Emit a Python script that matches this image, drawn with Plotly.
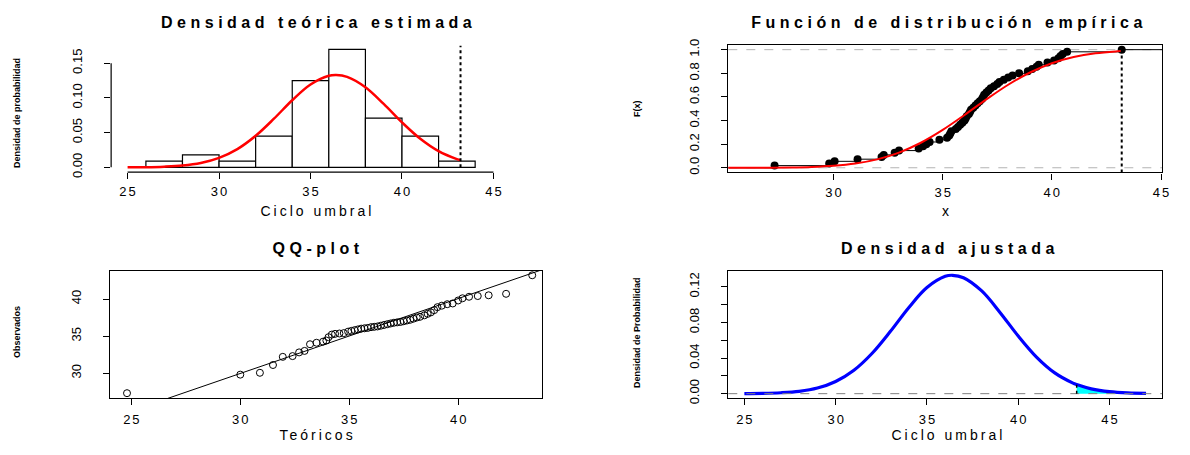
import plotly.graph_objects as go

W, H = 1190, 455

# ---------------- data ----------------
hist_breaks = [26, 28, 30, 32, 34, 36, 38, 40, 42, 44]
hist_density = [0.009, 0.018, 0.009, 0.045, 0.125, 0.170, 0.071, 0.045, 0.009]

threshold = 43.2

pdf_x = [25, 26, 27, 28, 29, 30, 31, 32, 33, 34, 35, 36, 36.4, 37, 38, 39, 40, 41, 42, 43, 43.2, 44, 45, 46, 47]
pdf_y = [0.0001, 0.0003, 0.0010, 0.0026, 0.0063, 0.0137, 0.0263, 0.0454, 0.0700, 0.0966, 0.1192, 0.1318, 0.1330,
         0.1303, 0.1154, 0.0913, 0.0647, 0.0411, 0.0233, 0.0118, 0.0102, 0.0054, 0.0022, 0.0008, 0.0003]

cdf_x = [25, 26, 27, 28, 29, 30, 31, 32, 33, 34, 35, 36, 37, 38, 39, 40, 41, 42, 43, 43.2]
cdf_y = [0.0001, 0.0003, 0.0009, 0.0026, 0.0068, 0.0165, 0.0359, 0.0712, 0.1286, 0.2119, 0.3204, 0.4470,
         0.5793, 0.7031, 0.8068, 0.8849, 0.9374, 0.9691, 0.9861, 0.9883]

obs = [27.3, 29.8, 30.05, 31.1, 32.2, 32.3, 32.8, 33.0, 33.9, 34.1, 34.25, 34.4, 34.85, 35.2, 35.3, 35.35,
       35.4, 35.6, 35.7, 35.8, 35.9, 36.0, 36.05, 36.1, 36.2, 36.25, 36.3, 36.4, 36.5, 36.6, 36.7, 36.8,
       36.85, 36.9, 37.0, 37.1, 37.2, 37.35, 37.5, 37.6, 37.8, 38.0, 38.2, 38.5, 38.9, 39.1, 39.3, 39.4,
       39.8, 40.1, 40.3, 40.4, 40.5, 40.7, 43.2]
theo = [24.8, 30.0, 30.9, 31.5, 31.95, 32.4, 32.7, 32.95, 33.2, 33.5, 33.8, 33.95, 34.05, 34.2, 34.35, 34.55,
        34.75, 34.95, 35.1, 35.25, 35.4, 35.55, 35.7, 35.85, 36.0, 36.15, 36.3, 36.45, 36.6, 36.75, 36.9, 37.05,
        37.2, 37.35, 37.5, 37.65, 37.8, 37.95, 38.1, 38.25, 38.45, 38.6, 38.75, 38.9, 39.05, 39.25, 39.5, 39.75,
        40.0, 40.2, 40.5, 40.9, 41.4, 42.2, 43.4]
qq_line_x = [24.0, 44.2]
qq_line_y = [23.9, 44.3]

fill_x = [43.2, 44, 45, 46, 47]
fill_y = [0.0102, 0.0054, 0.0022, 0.0008, 0.0003]

titles = ["Densidad teórica estimada", "Función de distribución empírica", "QQ-plot", "Densidad ajustada"]

# ---------------- helpers ----------------
FONT = "Liberation Sans"


def xd(a, b):
    return [a / W, b / W]


def yd(top, bottom):
    return [1 - bottom / H, 1 - top / H]


def px(x):
    return x / W


def py(y):
    return 1 - y / H


fig = go.Figure()

# TL histogram
mids = [(hist_breaks[i] + hist_breaks[i + 1]) / 2 for i in range(len(hist_density))]
widths = [hist_breaks[i + 1] - hist_breaks[i] for i in range(len(hist_density))]
fig.add_trace(go.Bar(x=mids, y=hist_density, width=widths, marker=dict(color="white", line=dict(color="black", width=1.2)),
                     xaxis="x", yaxis="y"))
tl_x = [v for v in pdf_x if v <= threshold]
tl_y = pdf_y[:len(tl_x)]
fig.add_trace(go.Scatter(x=tl_x, y=tl_y, mode="lines", line=dict(color="red", width=2.5, shape="spline"),
                         xaxis="x", yaxis="y"))

# TR ECDF
n = len(obs)
TR_RANGE = [25.18, 45.05]
ex = [TR_RANGE[0]] + obs + [TR_RANGE[1]]
ey = [0] + [(i + 1) / n for i in range(n)] + [1]
fig.add_trace(go.Scatter(x=ex, y=ey, mode="lines", line=dict(color="black", width=1, shape="hv"),
                         xaxis="x2", yaxis="y2"))
fig.add_trace(go.Scatter(x=obs, y=[(i + 1) / n for i in range(n)], mode="markers",
                         marker=dict(color="black", size=8, symbol="circle"), xaxis="x2", yaxis="y2"))
fig.add_trace(go.Scatter(x=cdf_x, y=cdf_y, mode="lines", line=dict(color="red", width=2, shape="spline"),
                         xaxis="x2", yaxis="y2"))

# BL QQ-plot
fig.add_trace(go.Scatter(x=qq_line_x, y=qq_line_y, mode="lines", line=dict(color="black", width=1),
                         xaxis="x3", yaxis="y3"))
fig.add_trace(go.Scatter(x=theo, y=obs, mode="markers",
                         marker=dict(symbol="circle-open", size=7, color="black", line=dict(width=1)),
                         xaxis="x3", yaxis="y3"))

# BR fitted density
fig.add_trace(go.Scatter(x=fill_x, y=fill_y, mode="lines", fill="tozeroy", fillcolor="#00ffff",
                         line=dict(color="rgba(0,0,0,0)", width=0, shape="spline"), xaxis="x4", yaxis="y4"))
fig.add_trace(go.Scatter(x=pdf_x, y=pdf_y, mode="lines", line=dict(color="blue", width=3.2, shape="spline"),
                         xaxis="x4", yaxis="y4"))

tickfont = dict(family=FONT, size=13, color="black")
common = dict(showgrid=False, zeroline=False, ticks="outside", ticklen=6, tickcolor="black",
              tickfont=tickfont, color="black")

L1, R1 = 111.7, 512.5
L2, R2 = 732, 1168
BL_L, BL_R = 111, 545
T1, B1 = 35.9, 170.7
T2, B2 = 40, 171
T3, B3 = 272, 403

fig.update_layout(
    width=W, height=H, margin=dict(l=0, r=0, t=0, b=0), showlegend=False,
    plot_bgcolor="white", paper_bgcolor="white", font=dict(family=FONT, color="black"),
    xaxis=dict(domain=xd(L1, R1), range=[24.1, 45.9], tickvals=[25, 30, 35, 40, 45], anchor="y",
               showline=False, ticklabelstandoff=1, **common),
    yaxis=dict(domain=yd(T1, B1), range=[-0.007, 0.182], tickvals=[0, 0.05, 0.10, 0.15],
               ticktext=["0.00", "0.05", "0.10", "0.15"], tickangle=-90, anchor="x", showline=False,
               ticklabelstandoff=17, **common),
    xaxis2=dict(domain=xd(L2, R2), range=TR_RANGE, tickvals=[25, 30, 35, 40, 45], anchor="y2",
                showline=True, mirror=True, linecolor="black", linewidth=1.2, ticklabelstandoff=2, **common),
    yaxis2=dict(domain=yd(T2, B2), range=[-0.04, 1.04], tickvals=[0, 0.2, 0.4, 0.6, 0.8, 1.0],
                ticktext=["0.0", "0.2", "0.4", "0.6", "0.8", "1.0"], tickangle=-90, anchor="x2",
                showline=True, mirror=True, linecolor="black", linewidth=1.2, ticklabelstandoff=17, **common),
    xaxis3=dict(domain=xd(BL_L, BL_R), range=[24.04, 43.86], tickvals=[25, 30, 35, 40], anchor="y3",
                showline=True, mirror=True, linecolor="black", linewidth=1.2, ticklabelstandoff=3, **common),
    yaxis3=dict(domain=yd(T3, B3), range=[26.6, 43.8], tickvals=[30, 35, 40], tickangle=-90, anchor="x3",
                showline=True, mirror=True, linecolor="black", linewidth=1.2, ticklabelstandoff=17, **common),
    xaxis4=dict(domain=xd(L2, R2), range=[24.12, 47.88], tickvals=[25, 30, 35, 40, 45], anchor="y4",
                showline=True, mirror=True, linecolor="black", linewidth=1.2, ticklabelstandoff=3, **common),
    yaxis4=dict(domain=yd(T3, B3), range=[-0.0053, 0.138],
                tickvals=[0, 0.02, 0.04, 0.06, 0.08, 0.10, 0.12],
                ticktext=["0.00", "", "0.04", "", "0.08", "", "0.12"], tickangle=-90, anchor="x4",
                showline=True, mirror=True, linecolor="black", linewidth=1.2, ticklabelstandoff=17, **common),
)

shapes = [
    # TL axis lines (R style, tick to tick)
    dict(type="line", xref="x", yref="y domain", x0=25, x1=45, y0=0, y1=0, line=dict(color="black", width=1.2)),
    dict(type="line", xref="x domain", yref="y", x0=0, x1=0, y0=0, y1=0.15, line=dict(color="black", width=1.2)),
    dict(type="line", xref="x", yref="y", x0=threshold, x1=threshold, y0=0, y1=0.175,
         line=dict(color="black", width=2, dash="dot")),
    # TR
    dict(type="line", xref="x2 domain", yref="y2", x0=0, x1=1, y0=0, y1=0,
         line=dict(color="#b3b3b3", width=1, dash="dash"), layer="below"),
    dict(type="line", xref="x2 domain", yref="y2", x0=0, x1=1, y0=1, y1=1,
         line=dict(color="#b3b3b3", width=1, dash="dash"), layer="below"),
    dict(type="line", xref="x2", yref="y2", x0=threshold, x1=threshold, y0=-0.04, y1=1,
         line=dict(color="black", width=2, dash="dot")),
    # BR
    dict(type="line", xref="x4 domain", yref="y4", x0=0, x1=1, y0=0, y1=0,
         line=dict(color="gray", width=1, dash="dash")),
    dict(type="line", xref="x4", yref="y4", x0=threshold, x1=threshold, y0=0, y1=fill_y[0],
         line=dict(color="black", width=1.5, dash="dot")),
]
fig.update_layout(shapes=shapes)

tfont = dict(family=FONT, size=16, color="black", weight="bold")
lfont = dict(family=FONT, size=14, color="black")
yfont = dict(family=FONT, size=9, color="black", weight="bold")
ann = [
    dict(text=titles[0], x=px(318), y=py(17), font=tfont),
    dict(text=titles[1], x=px(952), y=py(17), font=tfont),
    dict(text=titles[2], x=px(318), y=py(249), font=tfont),
    dict(text=titles[3], x=px(952), y=py(249), font=tfont),
    dict(text="Ciclo umbral", x=px(318), y=py(211), font=lfont),
    dict(text="x", x=px(950), y=py(211), font=lfont),
    dict(text="Teóricos", x=px(318), y=py(441), font=lfont),
    dict(text="Ciclo umbral", x=px(952), y=py(441), font=lfont),
    dict(text="Densidad de probabilidad", x=px(17), y=py(110), font=yfont, textangle=-90),
    dict(text="F(x)", x=px(640), y=py(105), font=yfont, textangle=-90),
    dict(text="Observados", x=px(17), y=py(335), font=yfont, textangle=-90),
    dict(text="Densidad de Probabilidad", x=px(640), y=py(335), font=yfont, textangle=-90),
]
for a in ann:
    a.update(xref="paper", yref="paper", xanchor="center", yanchor="middle", showarrow=False)
fig.update_layout(annotations=ann)

# R's device draws text with wide letter spacing; mimic it with CSS letter-spacing
post = """
var gd = document.getElementById('{plot_id}');
function spread(){
  gd.querySelectorAll('.annotation-text').forEach(function(t){
    var fs = parseFloat(t.style.fontSize || window.getComputedStyle(t).fontSize);
    var ls = fs >= 16 ? 4.5 : (fs >= 14 ? 3 : 0);
    if (ls > 0) {
      t.style.letterSpacing = ls + 'px';
      t.setAttribute('dx', (ls / 2) + 'px');
    }
  });
  gd.querySelectorAll('.xtick text, .x2tick text, .x3tick text, .x4tick text').forEach(function(t){
    t.style.letterSpacing = '2px';
    t.setAttribute('dx', '1px');
  });
}
spread();
"""
fig.write_html("out.html", post_script=post)
